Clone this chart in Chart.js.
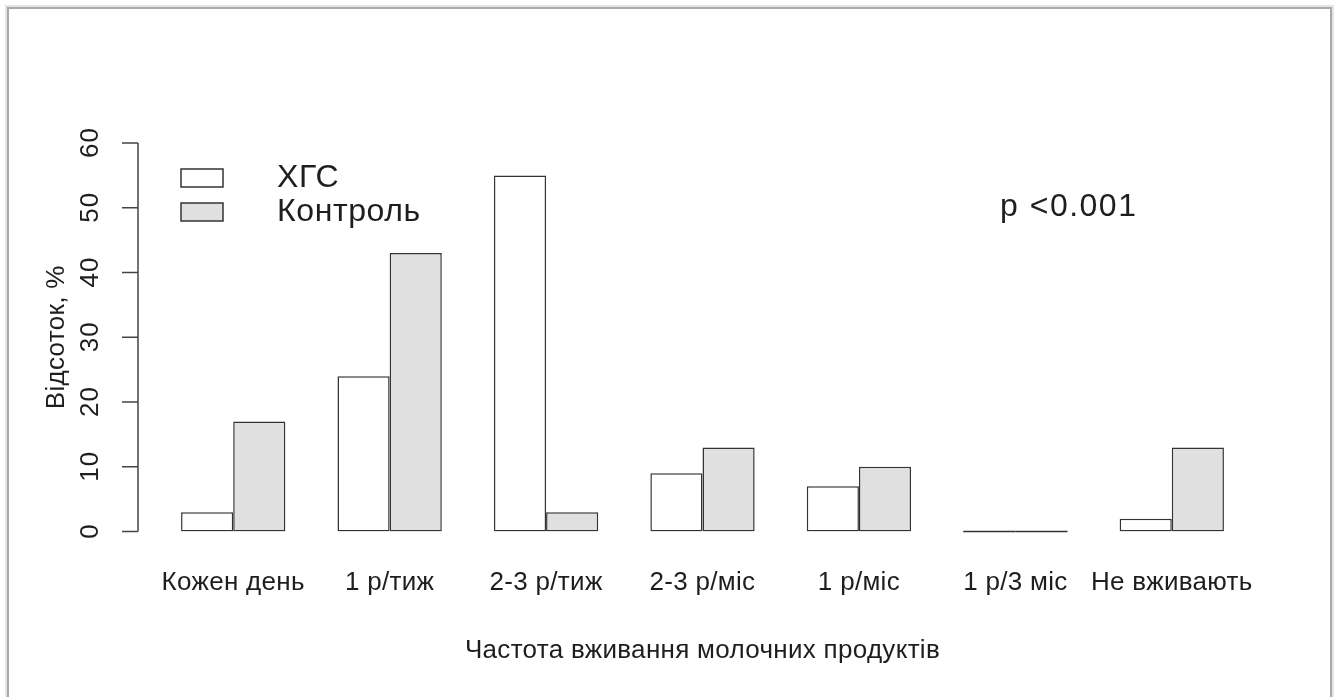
<!DOCTYPE html>
<html lang="uk">
<head>
<meta charset="utf-8">
<title>Частота вживання молочних продуктів</title>
<script src="https://cdn.jsdelivr.net/npm/chart.js@4/dist/chart.umd.min.js"></script>
<style>
  html, body { margin: 0; padding: 0; background: #fff; }
  #frame {
    position: absolute; left: 7px; top: 7px; width: 1321px; height: 720px;
    border: 2px solid #a9a9a9; border-bottom: none;
    box-shadow: 0 0 0 2px #e4e4e4;
  }
  #wrap { position: absolute; left: 0; top: 0; width: 1338px; height: 697px; }
</style>
</head>
<body>
<div id="frame"></div>
<div id="wrap"><canvas id="chart"></canvas></div>
<script>
// Frequency groups and percentages per group
const categories = ['Кожен день', '1 р/тиж', '2-3 р/тиж', '2-3 р/міс', '1 р/міс', '1 р/3 міс', 'Не вживають'];
const hgsValues = [3, 24, 55, 9, 7, 0, 2];
const controlValues = [17, 43, 3, 13, 10, 0, 13];
const yTicks = [0, 10, 20, 30, 40, 50, 60];
const seriesNames = ['ХГС', 'Контроль'];
const pValueText = 'p <0.001';

const FONT = '"Liberation Sans", Arial, sans-serif';
const TEXT = '#1e1e1e';
const EDGE = '#333';

// R-style left axis, legend, p-value and flat bars for zero values
const baseAxisPlugin = {
    id: 'baseAxis',
    beforeDraw(chart) {
        chart.ctx.letterSpacing = '0.3px';
    },
    afterDatasetsDraw(chart) {
        const ctx = chart.ctx;
        ctx.save();
        ctx.strokeStyle = EDGE;
        ctx.lineWidth = 1.5;
        chart.data.datasets.forEach((ds, i) => {
            const meta = chart.getDatasetMeta(i);
            meta.data.forEach((bar, j) => {
                if (ds.data[j] === 0) {
                    ctx.beginPath();
                    ctx.moveTo(bar.x - bar.width / 2, bar.base);
                    ctx.lineTo(bar.x + bar.width / 2, bar.base);
                    ctx.stroke();
                }
            });
        });
        ctx.restore();
    },
    afterDraw(chart) {
        const ctx = chart.ctx;
        const y = chart.scales.y;
        const area = chart.chartArea;
        const axisX = area.left - 17;

        ctx.save();
        ctx.strokeStyle = '#444';
        ctx.lineWidth = 1.5;
        ctx.beginPath();
        ctx.moveTo(axisX, y.getPixelForValue(yTicks[0]));
        ctx.lineTo(axisX, y.getPixelForValue(yTicks[yTicks.length - 1]));
        yTicks.forEach(v => {
            const py = y.getPixelForValue(v);
            ctx.moveTo(axisX, py);
            ctx.lineTo(axisX - 16, py);
        });
        ctx.stroke();

        // rotated tick labels
        ctx.fillStyle = TEXT;
        ctx.font = '26px ' + FONT;
        ctx.letterSpacing = '1px';
        ctx.textAlign = 'center';
        ctx.textBaseline = 'middle';
        yTicks.forEach(v => {
            ctx.save();
            ctx.translate(axisX - 47, y.getPixelForValue(v));
            ctx.rotate(-Math.PI / 2);
            ctx.fillText(String(v), 0.5, 0);
            ctx.restore();
        });

        // y axis title
        ctx.letterSpacing = '0.3px';
        ctx.save();
        ctx.translate(57, (area.top + area.bottom) / 2);
        ctx.rotate(-Math.PI / 2);
        ctx.fillText('Відсоток, %', 0, 0);
        ctx.restore();

        // legend
        const boxX = 181, boxW = 42, boxH = 18;
        const rows = [178, 212];
        ctx.letterSpacing = '0.6px';
        chart.data.datasets.forEach((ds, i) => {
            ctx.fillStyle = ds.backgroundColor;
            ctx.strokeStyle = EDGE;
            ctx.lineWidth = 1.5;
            ctx.fillRect(boxX, rows[i] - boxH / 2, boxW, boxH);
            ctx.strokeRect(boxX, rows[i] - boxH / 2, boxW, boxH);
            ctx.fillStyle = TEXT;
            ctx.font = '32px ' + FONT;
            ctx.textAlign = 'left';
            ctx.fillText(ds.label, 277, rows[i]);
        });

        // significance note
        ctx.letterSpacing = '1.5px';
        ctx.font = '32px ' + FONT;
        ctx.textAlign = 'left';
        ctx.fillText(pValueText, 1000, 207);
        ctx.restore();
        ctx.letterSpacing = '0px';
    }
};

new Chart(document.getElementById('chart'), {
    type: 'bar',
    data: {
        labels: categories,
        datasets: [
            {
                label: seriesNames[0],
                data: hgsValues,
                backgroundColor: '#ffffff',
                borderColor: EDGE,
                borderWidth: 1.5,
                borderSkipped: false
            },
            {
                label: seriesNames[1],
                data: controlValues,
                backgroundColor: '#e0e0e0',
                borderColor: EDGE,
                borderWidth: 1.5,
                borderSkipped: false
            }
        ]
    },
    options: {
        responsive: true,
        maintainAspectRatio: false,
        animation: false,
        layout: { padding: { left: 155, right: 88, top: 143, bottom: 31 } },
        categoryPercentage: 2 / 3,
        barPercentage: 1,
        plugins: {
            legend: { display: false },
            tooltip: { enabled: false }
        },
        scales: {
            x: {
                grid: { display: false, drawTicks: false },
                border: { display: false },
                ticks: {
                    color: TEXT,
                    font: { family: FONT, size: 26 },
                    padding: 36,
                    maxRotation: 0,
                    autoSkip: false
                },
                title: {
                    display: true,
                    text: 'Частота вживання молочних продуктів',
                    color: TEXT,
                    font: { family: FONT, size: 26 },
                    padding: { top: 0, bottom: 0 }
                }
            },
            y: {
                display: false,
                min: 0,
                max: 60
            }
        }
    },
    plugins: [baseAxisPlugin]
});
</script>
</body>
</html>
